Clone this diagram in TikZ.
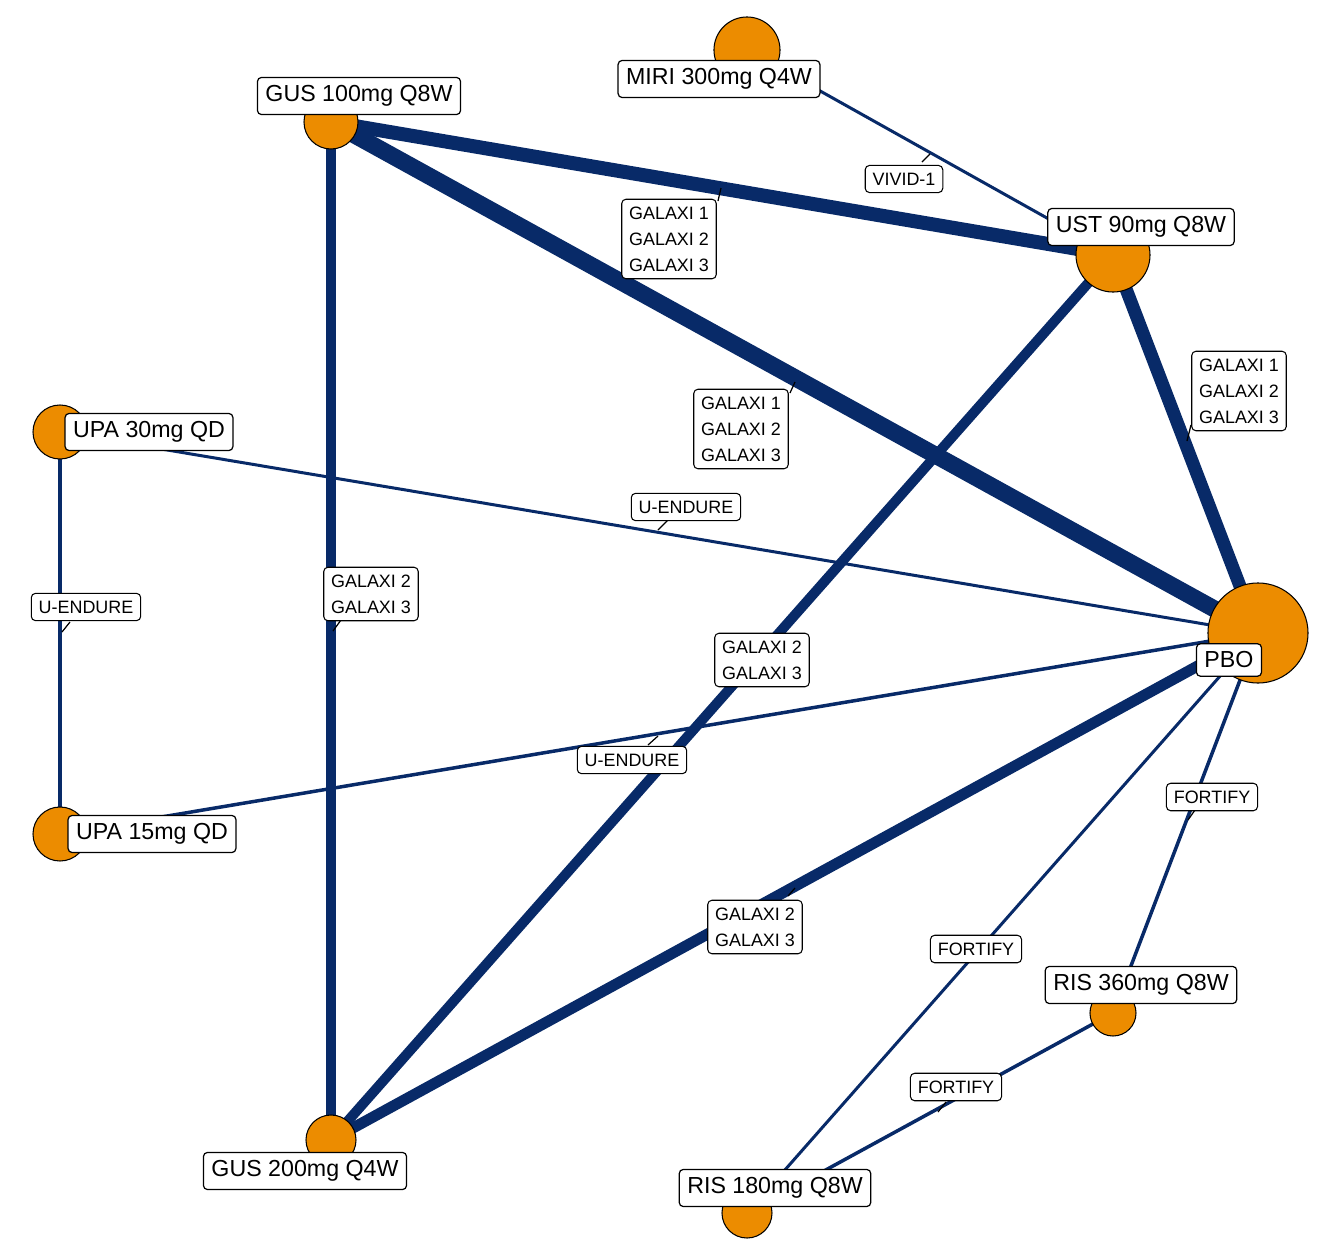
\documentclass[tikz,border=0pt]{standalone}
\usepackage{fontspec}
\setmainfont{Liberation Sans}
\begin{document}
\begin{tikzpicture}[x=0.01cm,y=-0.01cm,
  lab/.style={draw=black,fill=white,rounded corners=1.2pt,line width=0.35pt,font=\fontsize{6.6}{7.5}\selectfont,inner sep=2.3pt},
  elab/.style={draw=black,fill=white,rounded corners=1.2pt,line width=0.3pt,font=\fontsize{5.1}{7.4}\selectfont,inner sep=2.1pt,align=center},
  ed/.style={draw={rgb,255:red,8;green,42;blue,104},line width=#1*0.2845pt},
  tick/.style={draw=black,line width=0.35pt}]
\useasboundingbox (0,0) rectangle (1320,1254);
\definecolor{trtc}{RGB}{236,140,0}
\tikzset{trt/.style={circle,fill=trtc,draw=black,line width=0.3pt,inner sep=0pt,minimum size=#1*0.2845pt}}
\coordinate (miri) at (747,50);
\coordinate (g100) at (331,122);
\coordinate (ust) at (1113,255);
\coordinate (u30) at (60,432);
\coordinate (pbo) at (1258,633);
\coordinate (u15) at (60,834);
\coordinate (g200) at (331,1140);
\coordinate (r360) at (1113,1013);
\coordinate (r180) at (747,1213);
% edges
\draw[ed=14] (g100) -- (ust);
\draw[ed=17] (g100) -- (pbo);
\draw[ed=9] (g100) -- (g200);
\draw[ed=13] (ust) -- (pbo);
\draw[ed=10] (ust) -- (g200);
\draw[ed=11] (pbo) -- (g200);
\draw[ed=3] (miri) -- (ust);
\draw[ed=3] (u30) -- (pbo);
\draw[ed=4] (u30) -- (u15);
\draw[ed=3.5] (u15) -- (pbo);
\draw[ed=3] (pbo) -- (r180);
\draw[ed=3.5] (pbo) -- (r360);
\draw[ed=3.5] (r360) -- (r180);
% circles
\node[trt=66] (cmiri) at (miri) {};
\node[trt=54] (cg100) at (g100) {};
\node[trt=74] (cust) at (ust) {};
\node[trt=54] (cu30) at (u30) {};
\node[trt=100] (cpbo) at (pbo) {};
\node[trt=54] (cu15) at (u15) {};
\node[trt=50] (cg200) at (g200) {};
\node[trt=46] (cr360) at (r360) {};
\node[trt=50] (cr180) at (r180) {};
% edge label ticks
\coordinate (k1a) at (922,162); \coordinate (k1b) at (930,154);
\coordinate (k2a) at (718,201); \coordinate (k2b) at (721,188);
\coordinate (k3a) at (790,393); \coordinate (k3b) at (795,382);
\coordinate (k4a) at (1187,441); \coordinate (k4b) at (1191,425);
\coordinate (k5a) at (658,530); \coordinate (k5b) at (668,520);
\coordinate (k6a) at (62,632); \coordinate (k6b) at (70,622);
\coordinate (k7a) at (333,631); \coordinate (k7b) at (341,620);
\coordinate (k8a) at (648,745); \coordinate (k8b) at (658,736);
\coordinate (k9a) at (1188,820); \coordinate (k9b) at (1195,810);
\coordinate (k10a) at (788,896); \coordinate (k10b) at (795,888);
\coordinate (k11a) at (938,1112); \coordinate (k11b) at (946,1102);
\foreach \i in {1,...,11}{\draw[tick] (k\i a) -- (k\i b);}
% edge labels
\node[elab] (e1) at (904,179) {VIVID-1};
\node[elab] (e2) at (669,239) {GALAXI 1\\GALAXI 2\\GALAXI 3};
\node[elab] (e3) at (741,429) {GALAXI 1\\GALAXI 2\\GALAXI 3};
\node[elab] (e4) at (1239,391) {GALAXI 1\\GALAXI 2\\GALAXI 3};
\node[elab] (e5) at (686,507) {U-ENDURE};
\node[elab] (e6) at (86,607) {U-ENDURE};
\node[elab] (e7) at (371,594) {GALAXI 2\\GALAXI 3};
\node[elab] (e8) at (762,660) {GALAXI 2\\GALAXI 3};
\node[elab] (e9) at (632,760) {U-ENDURE};
\node[elab] (e10) at (1212,797) {FORTIFY};
\node[elab] (e11) at (755,927) {GALAXI 2\\GALAXI 3};
\node[elab] (e12) at (976,949) {FORTIFY};
\node[elab] (e13) at (956,1087) {FORTIFY};
% node labels
\node[lab] at (719,79) {MIRI 300mg Q4W};
\node[lab] at (359,96) {GUS 100mg Q8W};
\node[lab] at (1141,227) {UST 90mg Q8W};
\node[lab] at (149,432) {UPA 30mg QD};
\node[lab] at (1229,660) {PBO};
\node[lab] at (152,834) {UPA 15mg QD};
\node[lab] at (305,1171) {GUS 200mg Q4W};
\node[lab] at (1141,985) {RIS 360mg Q8W};
\node[lab] at (775,1188) {RIS 180mg Q8W};
\end{tikzpicture}
\end{document}
